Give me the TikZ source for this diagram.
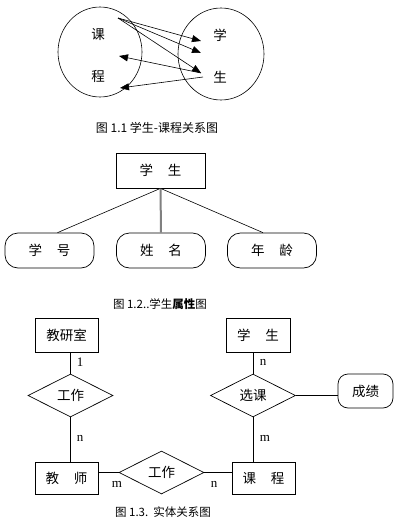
\documentclass[tikz,border=0pt]{standalone}
\usepackage{fontspec}
\setmainfont{Liberation Serif}
\newfontfamily\cjk{Noto Sans CJK SC}
\usetikzlibrary{arrows.meta,shapes.geometric}
\begin{document}
\begin{tikzpicture}[x=1pt,y=-1pt,line width=0.7pt,
  every node/.style={font=\cjk\fontsize{13.5}{15}\selectfont, inner sep=0pt},
  circ/.style={draw, ellipse, line width=0.6pt},
  arr/.style={line width=0.6pt, -{Triangle[length=9pt,width=7pt]}},
  box/.style={draw, minimum width=89pt, minimum height=35pt},
  att/.style={draw, rounded corners=13pt, minimum width=89pt, minimum height=35pt},
  ent/.style={draw, minimum width=63pt, minimum height=34pt},
  rel/.style={draw, diamond, aspect=2, minimum width=85pt, minimum height=43pt},
  card/.style={font=\fontsize{13}{14}\selectfont},
  captxt/.style={font=\cjk\fontsize{11.5}{13}\selectfont}]
\useasboundingbox (0,0) rectangle (406,530);

% Figure 1.1
\node[circ, minimum width=84pt, minimum height=90pt] (cl) at (100,52) {};
\node[circ, minimum width=86pt, minimum height=92pt] (cr) at (221,54) {};
\node (ke) at (98,34) {课};
\node (ch) at (98,76) {程};
\node (xu) at (220,35) {学};
\node (sh) at (220,77) {生};
\coordinate (s) at (118,18);
\coordinate (t1) at (201,41);
\coordinate (t2) at (201,53);
\coordinate (t3) at (201,73);
\coordinate (s2) at (203,77);
\coordinate (u1) at (119,56);
\coordinate (u2) at (120,88);
\draw[arr] (s) -- (t1);
\draw[arr] (s) -- (t2);
\draw[arr] (s) -- (t3);
\draw[arr] (t3) -- (u1);
\draw[arr] (s2) -- (u2);
\node[font=\cjk\fontsize{12}{13}\selectfont] (cap1) at (157,128) {图 1.1 学生-课程关系图};

% Figure 1.2
\node[box] (stu) at (160.5,170.5) {学\hspace{1.1em}生};
\node[att] (a1) at (49.5,250.5) {学\hspace{1.1em}号};
\node[att] (a2) at (161,250.5) {姓\hspace{1.1em}名};
\node[att] (a3) at (272,250.5) {年\hspace{1.1em}龄};
\draw[line width=0.6pt] (stu.south) -- ([xshift=8pt]a1.north);
\draw[gray, line width=2pt] (stu.south) -- (a2.north);
\draw[line width=0.6pt] (stu.south) -- ([xshift=-9pt]a3.north);
\node[captxt] (cap2) at (160,304) {图 1.2..学生\textbf{属性}图};

% Figure 1.3
\node[ent] (jys) at (66.5,335) {教研室};
\node[ent, minimum width=64pt] (xs) at (258,335) {学\hspace{1.1em}生};
\node[ent, minimum height=32pt] (js) at (66.5,478) {教\hspace{1.1em}师};
\node[ent, minimum height=32pt] (kc) at (263.5,478) {课\hspace{1.1em}程};
\node[rel] (gz1) at (70.5,395.5) {工作};
\node[rel] (xk) at (253,395.5) {选课};
\node[rel] (gz2) at (161.5,472.5) {工作};
\node[draw, rounded corners=10pt, minimum width=55pt, minimum height=34pt] (cj) at (365.5,391) {成绩};
\draw (gz1.north |- jys.south) -- (gz1.north);
\draw (gz1.south) -- (gz1.south |- js.north);
\draw (gz2.west -| js.east) -- (gz2.west);
\draw (gz2.east) -- (gz2.east -| kc.west);
\draw (xk.north |- xs.south) -- (xk.north);
\draw (xk.south) -- (xk.south |- kc.north);
\draw (xk.east) -- (xk.east -| cj.west);
\node[card] (c1) at (80,362) {1};
\node[card] (c2) at (80,438) {n};
\node[card] (c3) at (117,484) {m};
\node[card] (c4) at (214,484) {n};
\node[card] (c5) at (263,362) {n};
\node[card] (c6) at (265,438) {m};
\node[captxt] (cap3) at (163,512) {图 1.3.\ \ 实体关系图};
\end{tikzpicture}
\end{document}
